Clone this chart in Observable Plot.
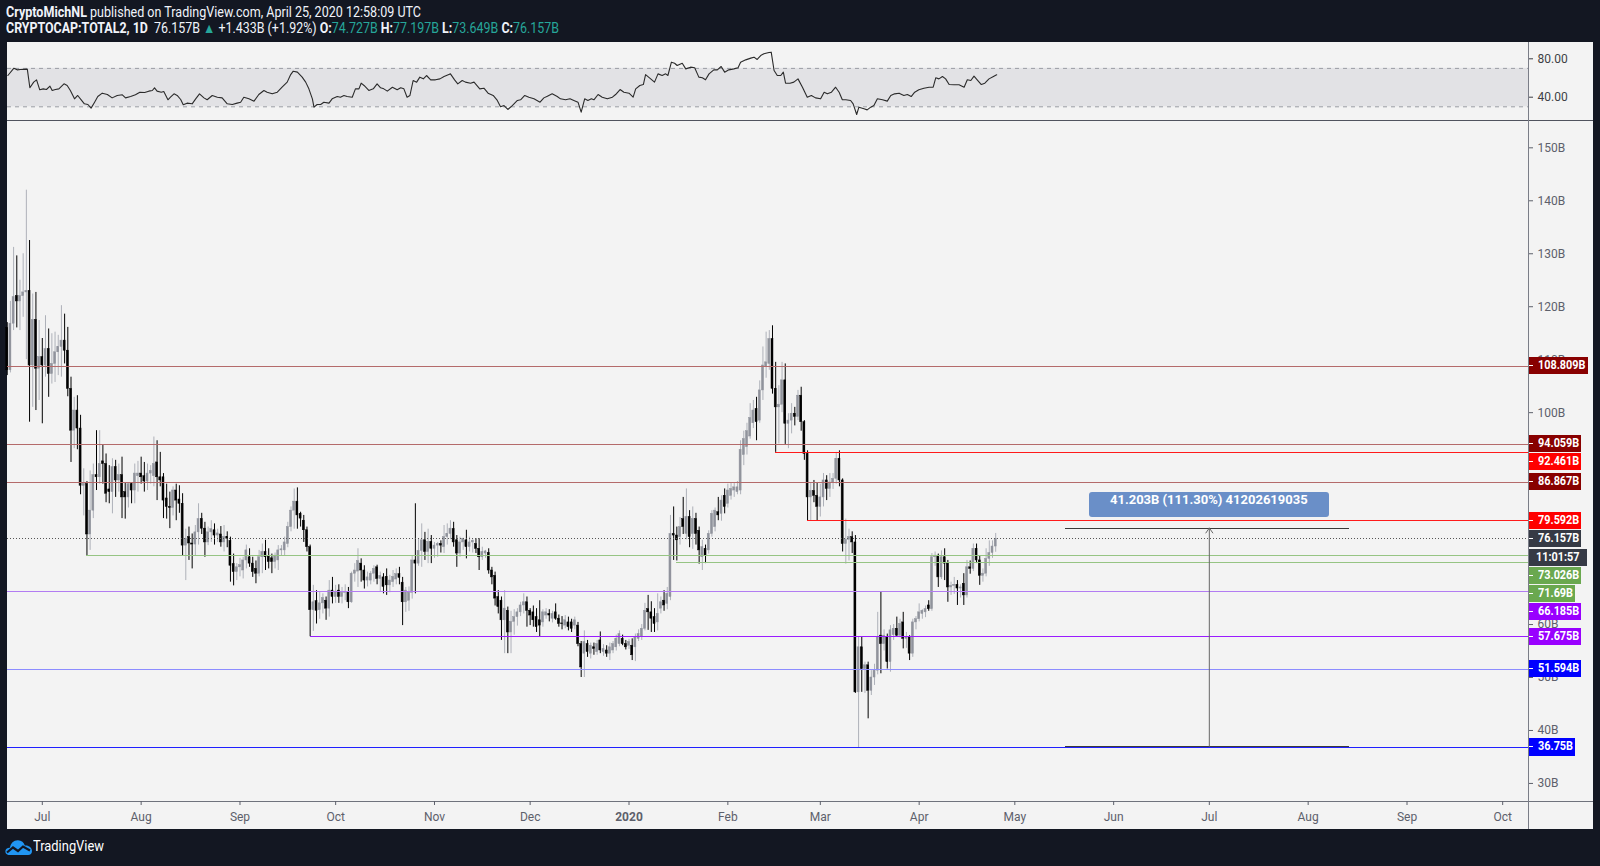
<!DOCTYPE html>
<html><head><meta charset="utf-8">
<script src="https://cdn.jsdelivr.net/npm/d3@7"></script>
<script src="https://cdn.jsdelivr.net/npm/@observablehq/plot@0.6"></script>
<style>
html,body{margin:0;padding:0;background:#131722;}
body{width:1600px;height:866px;position:relative;overflow:hidden;font-family:Roboto,"Noto Sans",sans-serif;}
#frame{position:absolute;left:7px;top:42px;width:1586px;height:787px;background:#f3f3f3;}
.hl{position:absolute;height:1px;background:#6f727c;}
.vl{position:absolute;width:1px;background:#7a7d87;}
.hdr{position:absolute;left:6px;color:#f0f3fa;font-size:14px;white-space:nowrap;transform-origin:0 50%;}
.teal{color:#26a69a;}
.plab{position:absolute;left:1529px;height:17.5px;line-height:17.5px;color:#fff;font:bold 12.5px Roboto,sans-serif;padding:0 1px 0 9px;white-space:nowrap;overflow:visible;}
.plab span{display:inline-block;transform-origin:0 50%;}
.plab.tick::before{content:"";position:absolute;left:0;top:8px;width:4px;height:1px;background:#fff;}
#mbox{position:absolute;width:240px;height:25px;line-height:25px;background:#6a8fc8;border-radius:3px;color:#fff;font:bold 13px Roboto,sans-serif;text-align:center;}
svg{position:absolute;left:0;}
</style></head><body>
<div id="frame"></div>
<div class="hdr" id="h1" style="top:4px"><b>CryptoMichNL</b> published on TradingView.com, April 25, 2020 12:58:09 UTC</div>
<div class="hdr" id="h2" style="top:20px"></div>
<div class="hl" style="left:7px;top:120px;width:1586px;background:#50535e"></div>
<div class="hl" style="left:7px;top:801px;width:1586px"></div>
<div class="vl" style="left:1528px;top:42px;height:787px"></div>
<div id="foot" style="position:absolute;left:5px;top:838px;height:20px;">
<svg width="28" height="18" style="position:absolute;left:0;top:0"><path fill="#2196f3" d="M4.5 17 C1 17 0 14.5 0.5 12.5 C1 10.5 3 9.5 5 9.8 C5.5 5 9 2 13 2.2 C16.5 2.4 19 4.5 19.8 7.5 C23.5 7 27 9.5 27 13 C27 15.5 25.5 17 23 17 Z"/><polyline points="2,14.5 8,9.5 13,13 18,8.5 25,12.5" fill="none" stroke="#131722" stroke-width="2.2"/></svg>
<div id="tvtext" style="position:absolute;left:28px;top:0;color:#fff;font-size:14.5px;white-space:nowrap;transform-origin:0 50%;">TradingView</div>
</div>
<script>
// ---------- DATA ----------
const startDate = "2019-06-20"; // first daily candle
const opens = [
116,108,116.8,122,121,122,122.7,123,108.9,117.5,
108.3,110.5,108.9,112,107.3,109.2,111.4,112.4,113.6,111.7,
104.5,96.6,100.4,97,86.2,86.5,77,81.5,88.2,87.8,
90.8,90.3,85.5,85,89.7,87.2,88.2,85,84,86.5,
85.3,88,88.5,88,87,88.5,88,90.6,87.8,87.8,
83.8,82.2,82,85.3,83.6,82.8,74.9,76.5,75.3,75.1,
77.4,79.9,78.1,75.5,77.4,77.8,76.8,77,75.5,76.5,
75.8,71.4,69.9,70.8,70.2,72.1,72.7,71.5,70.5,69.6,
72.7,73.7,72.9,72.5,71.8,72.1,74,74,75.2,78.4,
81.5,83.2,80.9,79.6,77.8,74.6,62.7,64.4,62.7,64,
64.5,63,66.4,65.2,66.4,65.2,66,66.1,64.2,69.6,
70,71.5,70.2,68.3,68.3,69.6,70.8,68.6,68.9,69,
67.4,68,68.5,69.5,67.9,64.2,64.5,66,72.1,71.5,
73.9,75.9,73.7,75.6,74.3,74.9,75.2,74.6,76.5,77.1,
78,75.9,73.4,75.5,75.9,74.6,75.5,75.2,74.3,72.7,
73.4,73.5,70.2,69.2,65.2,64.5,60.8,62.6,58.5,60.5,
61.4,62.3,63.6,64.2,62.6,62.3,61.4,60.8,60.4,61.7,
62,61.1,62.3,61.1,60.2,59.8,60.4,60.4,59.8,59.8,
56.3,54.5,56.3,54.5,55.7,54.8,57,54.8,55.1,54.5,
55.1,55.7,56.3,57.3,56.3,56,56,55.7,57.3,57.6,
59.2,62.9,62.3,61.4,60.4,63,64.5,63.9,65.2,77.1,
76.8,76.5,79.9,77.1,80.3,77.1,79.9,77.7,72.7,74.3,
74,77.1,78.4,81.2,80.9,84.3,82.8,84.3,85.3,85,
85.3,92,93.5,95.5,98,100.7,98.5,104.2,108.6,109.2,
113.9,104.5,101,101.5,106.1,97.9,98.5,99.8,99.2,103.2,
98.2,92.2,84,85.2,84.3,82.2,84,87.2,85.6,86.8,
87.5,91.3,87.2,75.2,76,76.5,75.5,47.2,55.7,51.6,
52.3,47.5,50,51.3,57.9,56.3,57.6,52.9,58,59.2,
57.9,60.4,57.3,57.6,54.5,60.4,61,62,62.3,63.6,
62.9,72.7,73,68.9,72.7,71.5,67,67.3,67.5,66.8,
67.7,65.5,70.8,70.5,74.3,72.1,69.2,69.6,72.4,73.5,
74.727];
const highs = [
117,121,131.2,129.6,125,130,142,132.5,122.4,122.7,
117.4,114,118.3,115.8,114.9,115.2,114.6,120.2,118.6,116.1,
106.7,102.9,103.2,99.5,89.4,87,89,90.3,96.6,96.6,
93.8,92.2,90,91.3,91,90.3,91.6,86.8,86.5,86.8,
90.3,90.8,91.6,90.6,90.3,90,95.4,94.7,92.5,88.5,
86.5,85,86,86.5,86.2,84.7,78,78.4,77.1,78.7,
82.8,81,79.3,78.4,79.6,79,78,78.5,78.7,77.5,
76.5,73.3,71.5,72.5,72.7,75,74.3,72.7,72,74,
75.2,75.9,74.3,73.3,73.5,74.9,74.9,76.5,79.3,82.2,
85.6,85.8,81.2,80.6,78.4,75,67.4,66.4,66.1,65.8,
65.2,68.3,68.9,67.4,67.5,67,67.5,67,69.9,71.5,
74.3,72.4,71.1,69.9,70,71.1,71.2,69.9,69.6,70.5,
69.3,70.2,70.5,70.8,68.9,67,67.1,73,82.8,76.2,
79,77.4,78,76.8,75.5,75.5,75.8,78.7,79,79.6,
79.3,76.8,76.5,76.3,77.8,76.5,76,76.2,76.2,74.6,
74,74.3,70.8,69.9,66.4,65.2,66.4,63.3,62.5,62.8,
63,64.2,65.8,65.2,63,63.5,63,64.5,62.8,63,
62.8,62.5,63.9,61.8,61.5,61.7,61.4,61,61.4,60.4,
56.8,58.8,57,56.5,56.5,57,58.6,56.2,56,56.5,
56.8,58,58.8,58,57,57.2,57.3,58.2,59,60,
64,65.5,64.3,63,65.8,65.2,66.4,67,80.6,82.2,
78.4,80.2,84,85.6,81.5,82.2,81,78.4,75.9,75,
77.7,81.5,82,84,84.3,85.6,86.5,86.8,86.8,87,
94.7,96.5,98,101.7,102.3,102.9,106,112.4,115.2,115.5,
116.4,109.5,105.1,109.5,109.2,99.8,101.7,101,104.2,104.8,
98.5,92.8,86.8,87.2,86.8,86.5,88.5,88.1,88.5,88.5,
92.5,92.8,87.5,79.9,78,77.5,76.8,57.6,57.6,52.9,
52.9,51.3,52.5,62.3,66.1,59,58.2,59.8,60,61.4,
61,62.3,58.5,57.9,61,61.5,63.9,62.8,63.5,64.5,
73.4,73.7,73.3,73.9,74.3,72.1,68,68.9,68.3,67.5,
69.6,72.1,72,75.2,75.2,73,70.5,74.3,75.8,75.8,
77.197];
const lows = [
107,107.5,115.5,116,115.5,118,110,98.2,101,100.4,
102.3,97.9,106.7,102.9,105.4,105.7,107,106.7,109.2,103,
90.6,93.2,93,84.5,80.5,73,74,80,85.3,86.5,
86.5,83,82.8,80.9,84,85,80,79.9,82,82.8,
82.8,85,86.5,85,85.3,86.5,86,83.4,86,80,
79.9,78.1,80.5,79.6,81,73,68.3,72.1,70.5,73,
75,77,72.7,74.9,75.5,75,75.5,74.6,73.7,74.5,
68,67.3,68.3,69,68.6,70.5,70.8,68.9,67.7,69,
69.6,70.2,70.5,69.6,70.5,70.2,73,73,74.5,77.5,
78,78,78.4,75.5,73.7,57.7,58.7,60.1,61,62,
60.8,61.4,63.9,64,64,63.9,64.5,63,64,68,
67,68,66.7,67.1,67.5,68,67.5,66.1,65.8,65.5,
66,67,67.5,67.5,59.8,62.3,62.5,64.8,65.8,71,
70.8,72.1,71.5,71.5,72.5,72.7,73.5,73.4,75,76,
74.6,70.8,72.7,74,72.4,73.7,73.5,73.4,70.2,72.1,
72.5,69.5,67.5,63.5,62,57,54.5,54.5,54.5,58,
59.7,61.5,62,59.5,59.8,59.5,58.5,57.6,59.5,61,
60.5,60.3,60.8,59.5,59,59.2,58.8,58.5,59,55.8,
50,50,53.8,53.5,54.2,54.2,54.5,54,53.8,53.2,
54.5,55,55.8,56,55.2,55.3,53.2,53,56.8,57,
58.8,58.9,58.5,58.5,58.8,62,62.5,62.8,64.5,72.1,
72,75,77,76,74.5,74.2,75,71.4,70.2,71.5,
73.3,76.5,77.5,79.6,79.5,80.9,82,83.5,84,84.5,
84.5,90,92,95,97,94.7,98,102.3,106.5,108,
103.5,92.5,94.1,100,94,93.2,96,97.5,98.5,96.5,
91,79.6,79.6,83,79.6,80.3,82.2,83.4,84,85.5,
86.5,86,73.7,71.4,72,73.4,47,36.75,47.2,47,
42.2,46.6,48.5,50.5,50.7,55,51.6,51,57,57.6,
57.5,55.4,55.5,53.2,53.8,59,60.5,61,61.3,62.5,
62.5,71,67,68.5,68.3,64.2,65.5,65.7,63.6,65,
63.6,65,69.5,70,71.5,67.4,68,69,71,72.5,
73.649];
const closes = [
108,116.8,121.8,121,122,122.7,123,108.9,117.5,108.3,
110.5,108.9,112,107.3,109.2,111.4,112.4,113.6,111.7,104.5,
96.6,100.4,97,86.2,86.5,77,81.5,88.2,87.8,90.3,
90.3,84.7,85,89.7,87.2,88.2,84,84,86.5,85.3,
88.5,88.5,87.8,87,88.5,89,90.3,87.8,87.2,83.4,
82.2,82,85.3,83.4,82.8,74.9,76.2,75.3,75.1,77.4,
79.9,78.1,75.5,77.4,78,76.8,77.2,75.5,76.5,76.2,
71.1,69.9,70.8,71.2,72.1,74,71.5,69.9,69.6,72.7,
73.7,72.7,71.8,71.8,73,74,74.2,75.5,78.4,81.5,
83.2,80.6,80,77.8,74.6,62.7,64.2,62.6,64,65,
63,66.4,65.2,66.2,65.2,66,66.2,64.2,69.6,70.2,
72,70.2,68.3,68.9,69.6,70.5,68.6,69.2,67.1,67.4,
68.3,69,69.5,68.8,64.2,66.4,66,72.1,71.5,73.9,
75.9,73.7,75.6,74.3,74.9,75.2,74.9,76.5,77.1,78.1,
75.5,73.4,75.5,76.2,74.6,75.5,75.8,74.3,72.7,73.7,
73.8,70.2,68.9,64.9,63.3,60.8,63,58.5,60.5,61.4,
62.3,63.6,64.2,62.6,61.7,60.8,59.5,59.8,62.3,62.3,
61.7,62,61.1,60.1,60.1,60.8,59.5,59.2,60.8,56.3,
51.9,56.7,54.8,56,55.4,56.3,55.1,55.4,54.5,55.7,
56.3,57.3,58.2,56.3,55.7,56.7,54.2,57.6,58.2,59.2,
62.6,62.3,61.1,60.1,62,64.2,63.6,65.8,77.1,76.8,
75.9,78.4,78.4,80.3,76.5,79.9,77.1,74,74.6,73,
77.1,80.9,81.5,80.6,83.4,82.2,85.3,85.6,85.9,85.9,
93,95,96.5,99,100.4,98.2,104.2,108.9,109.5,113.9,
104.5,101,101.5,106.1,97.9,98.5,99.8,99.2,103.2,98.2,
92.2,84,85.2,84.3,82.2,84,87.2,85.6,86.8,87.5,
91.3,87.2,75.2,76,76.5,75.5,47.2,55.7,51.6,52.3,
47.5,50,51.3,57.6,56.3,57.9,52.9,58.9,59.2,57.9,
60.1,57.3,57.6,54.5,60.4,61,62.3,62.6,62.9,62.9,
72.7,73,68.9,72.7,71.5,67,67.3,67.5,66.8,67,
65.5,70.8,70.5,74.3,72.1,69.2,69.6,72.4,73.5,74.727,
76.157];
// RSI(14): day offsets from startDate and values
const rsiDays = [0.2,2.1,3.1,4.2,6.3,7.1,8.3,9.2,10.2,11.3,12.3,13.4,14.1,15.1,16.2,17.8,18.8,19.8,21.1,22.1,23.2,24.2,25.3,26.3,27.4,28.4,29.8,31.4,32.9,34.5,36.1,37.1,38.7,40.2,41.6,43.1,44.4,45.5,46.2,47,48.3,49.1,50.4,51.2,52.3,53.3,54.4,55.2,56.4,58,59.1,60.3,61.7,62.7,64.3,65.9,67.4,69,70.6,72.1,73.2,74.2,75.8,77.4,78.9,80.5,81.5,83.1,84.7,86.2,87.8,88.9,89.7,91,92.5,93.6,94.6,95.7,96.2,97.2,98.3,99.3,100.9,101.9,103.5,104.5,105.6,106.6,108.2,109.2,110.3,111,111.9,113.4,114.8,116,117.1,118.1,119.2,120.8,122.3,123.4,124.4,125.4,126.3,127.3,128.4,129.4,130.5,131.5,132.8,134.3,135.7,137,138.5,139,140.3,141.3,142.7,143.7,145.3,146.4,148.2,149.5,150.8,152.4,153.7,154.7,155.8,157,158.4,160,161,162.3,163.6,165.2,167.1,168.3,169.4,170.9,172.5,173.5,175.1,176.5,177.7,179,180,181.1,182.1,183.2,184,185.3,186.6,188.2,189.8,190.8,192.2,193.4,195,196.3,197.1,198.4,199.5,200.2,201.8,203,204.1,205.4,206.5,207.2,208.3,209.3,210.1,211.7,212.8,214.3,215.6,216.9,218,219,220.1,221.6,222.7,223.9,225,226.3,227.9,229.2,230,231.6,233.2,234.2,235.2,236.3,237.3,238.9,239.6,240.5,241.5,242.6,243.4,244.1,245.5,246.7,248,249.4,250.9,252.2,253.5,255.1,256.2,257.2,258.5,259.8,260.9,261.9,263,264.5,265.3,266.4,267.1,268.7,269.7,270.8,271.8,272.9,274.5,276,277.1,278.3,279.7,281.2,282.3,283.5,284.6,285.9,287.5,289.1,290.4,291.2,292.2,293.3,294.3,295.4,296.9,298.5,300.1,301.1,302.2,303.2,304.2,305.5,306.6,307.9,309.3,310.3];
const rsiValues = [62.6,70.2,68.5,68.9,69.2,49.8,55.7,58.1,47.7,48.7,48,51.5,47,48,48.7,53.9,52.2,47,38.3,41.8,37.3,33.1,32.4,28.6,34.8,40.7,44.2,42.8,39.3,41.8,42.5,39.3,40.7,42.5,45.2,44.9,46.3,47,49.8,46.3,45.2,45.9,37.3,40,43.5,41.8,37.6,32.1,33.8,33.1,38.3,43.5,39.3,37.3,41.8,40,39.3,33.1,32.4,33.8,34.8,40,38.3,35.9,42.8,47,45.2,43.5,45.2,50.4,55.7,63.6,67.1,66.1,60.9,55.7,48.7,38.3,29.6,32.4,32.4,34.8,33.8,38.3,40.7,40,41.8,40.7,40,48.7,48.7,54.6,52.2,47,48.7,53.9,49.8,48.7,46.3,50.4,47.7,49.8,48.7,40,41.8,57.4,55.7,60.9,59.1,62.6,58.1,58.1,59.1,61.6,63.6,64.3,58.1,53.9,57.4,55.7,54.6,55.7,48.7,49.4,44.2,41.8,36.6,30,31.3,27.2,31.3,36.6,37.3,41.8,40,38.3,34.8,39.3,41.1,43.5,40.7,38.3,37.3,38.3,36.6,34.8,24.4,38.3,36.6,38.3,37.3,42.8,40,38.3,40,42.8,48,45.2,44.2,40,48.7,52.2,53.2,63.6,59.1,55.7,64.3,62.6,64.3,62.6,76.5,75.4,73,75.4,69.5,71.3,70.6,60.9,60.2,58.1,64.3,68.5,68.5,72,66.1,68.5,69.5,70.6,76.5,78.9,80.7,81.7,79.3,83.4,85.2,86.6,86.9,67.8,62.6,62.6,66.1,54.6,54.6,55.7,59.1,50.4,40,41.8,39.3,38.3,45.2,43.5,45.2,50.4,45.2,37.3,37.3,36.6,33.1,22,29.6,27.9,26.8,29.6,31.3,38.3,37.3,35.9,41.8,43.5,44.2,41.8,42.8,40.7,45.2,47.7,49.4,50.4,50.4,60.2,59.1,61.6,59.1,53.2,52.9,52.9,50.4,58.1,57.4,61.9,58.1,53.2,54.6,59.1,61.6,63.3];
// Horizontal levels drawn by the author (value, first day anchored; null = whole chart)
const levelValues = [108.809, 94.059, 92.461, 86.867, 79.592, 73.026, 71.69, 66.185, 57.675, 51.594, 36.75];
const levelStartDays = [null, null, 241, null, 251, 25, 210, null, 95, null, null];
// Price-range measurement (days from startDate, values in B)
const measureDays = [332, 421];
const measureArrowDay = 377;
const measureLow = 37.02, measureHigh = 78.2226;
const measureLabel = "41.203B (111.30%) 41202619035";
const countdown = "11:01:57";
// tick values whose labels are visible on the price scale (70B/80B/90B sit fully under the price tags)
const priceTicks = [30,40,50,60,100,110,120,130,140,150];
const rsiTicks = [40, 80];
const header = {symbol: "CRYPTOCAP:TOTAL2, 1D", change: "+1.433B (+1.92%)"};

// ---------- STYLES ----------
const levelColors = ["#880000","#880000","#ff0000","#880000","#ff0000","#6aa84f","#6aa84f","#9900ff","#9900ff","#0000ff","#0000ff"];
const lineColors  = ["#b46a6a","#b46a6a","#ff1a1a","#b46a6a","#ff1a1a","#96c483","#96c483","#b27cf2","#9a1cff","#8c8cff","#1f1fff"];

// ---------- BUILD ----------
const DAY = 864e5;
const START = Date.parse(startDate + "T00:00:00Z");
const dd = d => new Date(START + d * DAY);
const candles = closes.map((c, i) => ({date: dd(i), o: opens[i], h: highs[i], l: lows[i], c, up: c >= opens[i]}));
const upC = candles.filter(d => d.up), dnC = candles.filter(d => !d.up);
const rsi = rsiDays.map((d, i) => ({date: dd(d), v: rsiValues[i]}));
const xDomain = [dd(0.085), dd(477.1)];
const last = candles[candles.length - 1];
const fmt = v => v.toFixed(3) + "B";

document.getElementById("h2").innerHTML =
  `<b>${header.symbol}</b>&nbsp; ${fmt(last.c)} <span class="teal">▲</span> ${header.change} ` +
  `<b>O:</b><span class="teal">${fmt(last.o)}</span> <b>H:</b><span class="teal">${fmt(last.h)}</span> ` +
  `<b>L:</b><span class="teal">${fmt(last.l)}</span> <b>C:</b><span class="teal">${fmt(last.c)}</span>`;

const MAIN_TOP = 121, RSI_TOP = 42;
const baseStyle = {background: "transparent", color: "#5d606b", fontFamily: "Roboto, sans-serif", fontSize: "12px", overflow: "visible"};

const levelMarks = levelValues.map((v, i) =>
  Plot.ruleY([v], {x1: () => levelStartDays[i] == null ? xDomain[0] : dd(levelStartDays[i]), x2: () => xDomain[1],
    stroke: lineColors[i], strokeWidth: 1, shapeRendering: "crispEdges"}));

const bodyX1 = d => new Date(+d.date - 0.31 * DAY), bodyX2 = d => new Date(+d.date + 0.31 * DAY);
const main = Plot.plot({
  width: 1600, height: 708,
  marginLeft: 7, marginRight: 72, marginTop: 0, marginBottom: 28,
  style: baseStyle,
  x: {type: "utc", domain: xDomain, axis: null},
  y: {domain: [26.59, 154.97], axis: null},
  marks: [
    Plot.ruleX(upC, {x: "date", y1: "l", y2: "h", stroke: "#aeb1b9", strokeWidth: 1}),
    Plot.ruleX(dnC, {x: "date", y1: "l", y2: "h", stroke: "#000", strokeWidth: 1}),
    Plot.rect(upC, {x1: bodyX1, x2: bodyX2, y1: "o", y2: "c", fill: "#90939c", stroke: "#90939c", strokeWidth: 0.5}),
    Plot.rect(dnC, {x1: bodyX1, x2: bodyX2, y1: "o", y2: "c", fill: "#000", stroke: "#000", strokeWidth: 0.5}),
    ...levelMarks,
    Plot.ruleY([last.c], {stroke: "#555", strokeDasharray: "1,2", strokeWidth: 1, shapeRendering: "crispEdges"}),
    Plot.ruleY([measureLow, measureHigh], {x1: () => dd(measureDays[0]), x2: () => dd(measureDays[1]), stroke: "#3a3a3a", strokeWidth: 1, shapeRendering: "crispEdges"}),
    Plot.arrow([0], {x1: () => dd(measureArrowDay), x2: () => dd(measureArrowDay), y1: () => measureLow, y2: () => measureHigh, stroke: "#666", strokeWidth: 1, headLength: 9, headAngle: 70}),
    Plot.axisY({anchor: "right", ticks: priceTicks, tickFormat: d => d + "B", tickSize: 4, tickPadding: 5, label: null}),
    Plot.axisX({ticks: d3.utcMonths(dd(11), dd(470)).filter(d => d.getUTCMonth() !== 0), tickFormat: d3.utcFormat("%b"), tickSize: 4, tickPadding: 7, label: null}),
    Plot.axisX({ticks: d3.utcMonths(dd(11), dd(470)).filter(d => d.getUTCMonth() === 0), tickFormat: d3.utcFormat("%Y"), tickSize: 4, tickPadding: 7, fontWeight: "bold", label: null})
  ]
});
main.style.top = MAIN_TOP + "px";
document.body.appendChild(main);

const rsiPlot = Plot.plot({
  width: 1600, height: 79,
  marginLeft: 7, marginRight: 72, marginTop: 0, marginBottom: 0,
  style: baseStyle,
  x: {type: "utc", domain: xDomain, axis: null},
  y: {domain: [14.69, 96.98], axis: null},
  marks: [
    Plot.rect([0], {x1: () => xDomain[0], x2: () => xDomain[1], y1: () => 30, y2: () => 70, fill: "#e2e2e5"}),
    Plot.ruleY([30, 70], {stroke: "#9b9da4", strokeDasharray: "4,4", strokeWidth: 1}),
    Plot.line(rsi, {x: "date", y: "v", stroke: "#2b2b2b", strokeWidth: 1.1}),
    Plot.axisY({anchor: "right", ticks: rsiTicks, tickFormat: d3.format(".2f"), tickSize: 4, tickPadding: 5, color: "#3d3f45", label: null})
  ]
});
rsiPlot.style.top = RSI_TOP + "px";
document.body.appendChild(rsiPlot);

// price labels on the right scale (stacked to avoid overlaps)
const ys = main.scale("y"), xs = main.scale("x");
const items = levelValues.map((v, i) => ({text: v + "B", v, color: levelColors[i]}));
items.push({text: fmt(last.c), v: last.c, color: "#363a45", current: true});
items.sort((a, b) => b.v - a.v);
let prev = -Infinity;
for (const it of items) {
  const y = Math.max(MAIN_TOP + ys.apply(it.v), prev + 18);
  addLabel(it.text, it.color, y, true);
  prev = y;
  if (it.current) { prev = y + 19; addLabel(countdown, "#363a45", prev, false); }
}
function addLabel(text, color, y, tick) {
  const k = 0.87;
  const el = document.createElement("div");
  el.className = "plab" + (tick ? " tick" : "");
  const sp = document.createElement("span");
  sp.textContent = text;
  el.appendChild(sp);
  el.style.background = color;
  el.style.top = (y - 8.75) + "px";
  document.body.appendChild(el);
  const w = sp.getBoundingClientRect().width;
  sp.style.transform = `scaleX(${k})`;
  if (tick) {
    el.style.width = (w * k + 1) + "px";
  } else {
    el.style.padding = "0";
    el.style.width = "58px";
    sp.style.marginLeft = ((58 - w * k) / 2) + "px";
  }
}

// measurement label
const mb = document.createElement("div");
mb.id = "mbox"; mb.textContent = measureLabel;
mb.style.left = (xs.apply(dd(measureArrowDay)) - 120) + "px";
mb.style.top = (MAIN_TOP + ys.apply(measureHigh) - 35.6) + "px";
document.body.appendChild(mb);

// fit header widths to the reference's condensed look
function fit(id, w) { const e = document.getElementById(id); const r = e.getBoundingClientRect().width; if (r > 0) e.style.transform = `scaleX(${w / r})`; }
fit("h1", 415); fit("h2", 553); fit("tvtext", 71);
</script>
</body></html>
